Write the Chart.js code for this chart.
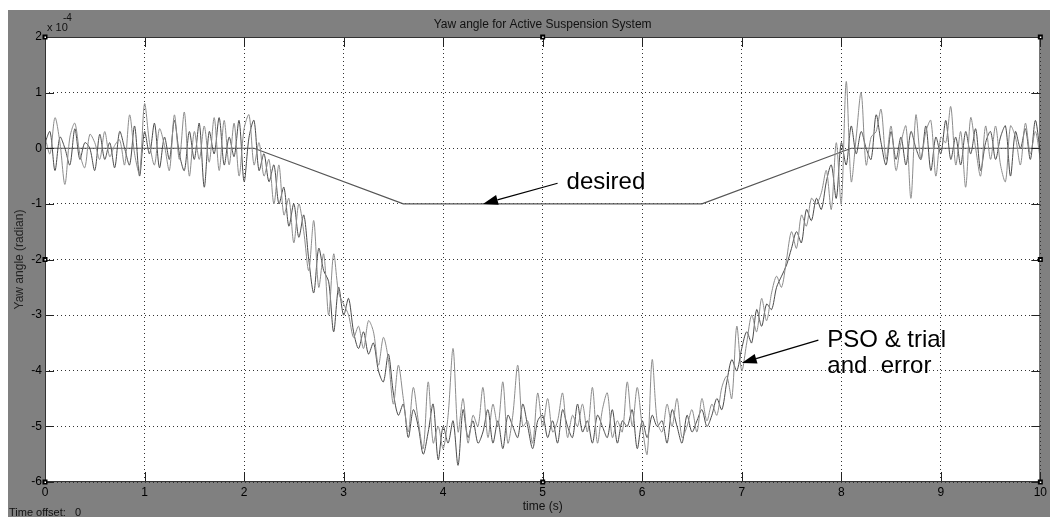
<!DOCTYPE html>
<html>
<head>
<meta charset="utf-8">
<script src="https://cdn.jsdelivr.net/npm/chart.js@4.4.1/dist/chart.umd.min.js"></script>
<style>
html, body { margin:0; padding:0; background:#fff; }
#wrap { width:1050px; height:517px; }
</style>
</head>
<body>
<div id="wrap"><canvas id="Chart1" width="1050" height="517"></canvas></div>
<script>
// yaw angle samples, in units of 1e-4 rad, one every 0.05 s from 0 to 10 s
let timeStep = 0.05

let psoYaw = [
  0.2, -0.1, 0.55, 0.1, -0.65, 0.2, 0.45, -0.1, -0.35, 0.25,
  0.1, -0.2, 0.3, -0.15, 0.05, 0.15, -0.3, 0.6, -0.1, -0.45,
  0.8, 0.1, -0.3, 0.35, 0.05, -0.4, 0.6, -0.2, 0.65, -0.5,
  0.3, -0.2, 0.4, -0.25, 0.55, -0.4, 0.5, -0.3, 0.45, -0.5,
  0.35, 0.6, -0.3, 0.1, -0.5, -0.2, -1.0, -0.3, -1.2, -0.9,
  -1.7, -1.0, -1.5, -2.2, -1.3, -2.5, -1.9, -3.0, -1.9, -2.6,
  -2.8, -3.0, -3.4, -3.2, -3.6, -3.1, -3.3, -3.9, -3.4, -3.8,
  -4.6, -3.9, -4.5, -5.1, -4.3, -4.9, -5.4, -4.2, -5.3, -5.0,
  -5.4, -4.8, -3.6, -5.1, -4.5, -5.3, -4.8, -5.0, -4.3, -5.2,
  -4.6, -5.0, -4.2, -5.3, -4.8, -3.9, -5.0, -4.9, -5.3, -4.4,
  -5.0, -4.5, -5.1, -4.9, -4.4, -5.2, -4.8, -5.0, -4.6, -5.1,
  -4.3, -5.3, -4.7, -4.4, -5.2, -4.9, -5.1, -4.2, -5.0, -4.3,
  -5.0, -5.5, -3.8, -4.9, -5.1, -4.6, -5.0, -4.5, -5.2, -5.0,
  -4.7, -5.1, -4.5, -4.9, -4.6, -4.8, -4.3, -4.1, -4.5, -3.2,
  -4.0, -3.5, -3.0, -3.3, -2.7, -3.1, -2.6, -2.3, -2.5, -2.0,
  -1.5, -1.8, -1.2, -1.4, -0.9, -1.0, -0.8, -0.4, -1.1, 0.1,
  -1.0, 1.2, -0.6, 0.2, 1.0, -0.3, 0.2, 0.3, 0.7, -0.2,
  0.4, -0.4, 0.1, 0.4, -0.9, 0.6, -0.2, 0.3, 0.5, -0.5,
  0.2, 0.1, 0.75, -0.3, 0.3, -0.7, 0.55, 0.0, -0.5, 0.4,
  -0.2, 0.4, -0.3, -0.6, 0.4, 0.2, -0.3, 0.45, -0.1, 0.3,
  -0.2
]

let trialYaw = [
  0.1, 0.3, -0.4, 0.2, 0.0, -0.3, 0.35, -0.2, 0.1, 0.0,
  -0.4, 0.25, -0.2, 0.1, -0.35, 0.3, 0.0, -0.3, 0.4, -0.5,
  0.3, -0.1, 0.45, -0.35, 0.2, -0.2, 0.5, -0.1, -0.4, 0.3,
  -0.2, 0.45, -0.7, 0.3, -0.1, 0.55, -0.3, 0.2, -0.15, 0.5,
  -0.6, 0.2, 0.5, -0.4, -0.1, -0.6, -0.3, -1.0, -0.7, -1.4,
  -1.0, -1.6, -1.2, -2.0, -2.6, -1.8, -2.2, -2.4, -3.3, -2.5,
  -3.0, -2.7, -3.3, -3.6, -3.3, -3.7, -3.5, -4.0, -4.2, -3.7,
  -4.4, -4.8, -4.6, -5.2, -4.7, -5.0, -5.5, -5.1, -4.6, -5.6,
  -5.0, -5.3, -4.9, -5.7, -4.7, -5.2, -4.9, -5.3, -5.1, -4.7,
  -5.3, -4.9, -5.4, -4.8, -5.0, -5.2, -4.6, -5.0, -5.4, -4.9,
  -4.8, -5.2, -4.9, -5.3, -4.7, -5.0, -5.2, -4.6, -5.1, -4.9,
  -5.3, -4.8, -5.0, -5.2, -4.7, -5.3, -4.9, -5.0, -4.7, -5.4,
  -4.9, -5.2, -4.8, -5.0, -4.9, -5.3, -4.7, -5.0, -5.3, -4.8,
  -5.1, -4.9, -4.7, -5.0, -4.8, -4.5, -4.7, -4.2, -3.8, -4.0,
  -3.6, -3.3, -3.5, -2.9, -3.2, -2.8, -2.9, -2.5, -2.3, -2.1,
  -1.8, -1.5, -1.7, -1.1, -1.3, -0.9, -1.1, -0.6, -0.3, -0.9,
  0.1, -0.3, 0.4, -0.1, 0.3, 0.0, -0.2, 0.6, 0.1, -0.3,
  0.3, -0.2, 0.2, -0.3, 0.3, 0.0, -0.2, 0.4, -0.4, 0.2,
  -0.1, 0.5, -0.2, 0.2, -0.3, 0.3, -0.1, 0.35, -0.4, 0.1,
  0.3, -0.2, 0.2, 0.4, -0.5, 0.3, 0.0, 0.35, -0.2, 0.5,
  -0.1
]

// desired yaw trajectory (break points)
let desiredT = [0, 2.1, 3.6, 6.6, 8.1, 10]
let desiredYaw = [0, 0, -1, -1, 0, 0]

let xTicks = [0, 1, 2, 3, 4, 5, 6, 7, 8, 9, 10]
let yTicks = [2, 1, 0, -1, -2, -3, -4, -5, -6]

// annotation text spot, arrow tail and arrow tip, in data units
let desiredNote = { lines: ["desired"], x: 5.24, y: -0.73, tail: [5.15, -0.63], tip: [4.4, -1.0] }
let psoNote = { lines: ["PSO & trial", "and  error"], x: 7.86, y: -3.575, tail: [7.77, -3.45], tip: [7.0, -3.86] }

let fontFam = "'Liberation Sans', Arial, sans-serif"

function toPoints(values){
    return values.map((v, i) => ({ x: +(i * timeStep).toFixed(2), y: v }))
}
let desiredPoints = desiredT.map((t, i) => ({ x: t, y: desiredYaw[i] }))

function drawArrow(ctx, x1, y1, x2, y2){
    let ang = Math.atan2(y2 - y1, x2 - x1)
    let len = 15, half = 5
    ctx.beginPath()
    ctx.moveTo(x1, y1)
    ctx.lineTo(x2 - Math.cos(ang) * len, y2 - Math.sin(ang) * len)
    ctx.stroke()
    ctx.beginPath()
    ctx.moveTo(x2, y2)
    ctx.lineTo(x2 - Math.cos(ang) * len - Math.sin(ang) * half, y2 - Math.sin(ang) * len + Math.cos(ang) * half)
    ctx.lineTo(x2 - Math.cos(ang) * len + Math.sin(ang) * half, y2 - Math.sin(ang) * len - Math.cos(ang) * half)
    ctx.closePath()
    ctx.fill()
}

let matlabFrame = {
    id: "matlabFrame",
    beforeDraw(chart){
        let ctx = chart.ctx
        ctx.save()
        ctx.fillStyle = "#fff"
        ctx.fillRect(0, 0, chart.width, chart.height)
        ctx.fillStyle = "#808080"
        ctx.fillRect(8, 10, chart.width - 8, chart.height - 10)
        let a = chart.chartArea
        ctx.fillStyle = "#fff"
        ctx.fillRect(a.left, a.top, a.right - a.left, a.bottom - a.top)
        ctx.restore()
    },
    afterDraw(chart){
        let ctx = chart.ctx
        let a = chart.chartArea
        let xs = chart.scales.x, ys = chart.scales.y
        ctx.save()
        // inner tick marks
        ctx.strokeStyle = "#222"
        ctx.lineWidth = 1
        ctx.beginPath()
        xTicks.forEach(t => {
            let px = Math.round(xs.getPixelForValue(t)) + 0.5
            ctx.moveTo(px, a.bottom); ctx.lineTo(px, a.bottom - 10)
            ctx.moveTo(px, a.top); ctx.lineTo(px, a.top + 10)
        })
        yTicks.forEach(v => {
            let py = Math.round(ys.getPixelForValue(v)) + 0.5
            ctx.moveTo(a.left, py); ctx.lineTo(a.left + 9, py)
            ctx.moveTo(a.right, py); ctx.lineTo(a.right - 9, py)
        })
        ctx.stroke()
        // axes box
        ctx.strokeStyle = "#333"
        ctx.strokeRect(a.left + 0.5, a.top + 0.5, a.right - a.left - 1, a.bottom - a.top - 1)
        // selection handles
        let cx = (a.left + a.right) / 2, cy = (a.top + a.bottom) / 2
        ;[[a.left, a.top], [cx, a.top], [a.right, a.top], [a.left, cy], [a.right, cy], [a.left, a.bottom], [cx, a.bottom], [a.right, a.bottom]].forEach(p => {
            ctx.fillStyle = "#000"
            ctx.fillRect(p[0] - 2.5, p[1] - 2.5, 5, 5)
            ctx.fillStyle = "#fff"
            ctx.fillRect(p[0] - 0.5, p[1] - 0.5, 1.5, 1.5)
        })
        // title
        ctx.fillStyle = "#111"
        ctx.font = "12px " + fontFam
        ctx.textAlign = "center"
        ctx.textBaseline = "middle"
        ctx.fillText("Yaw angle for Active Suspension System", cx, 25)
        // exponent
        ctx.textAlign = "left"
        ctx.textBaseline = "alphabetic"
        ctx.font = "11px " + fontFam
        ctx.fillText("x 10", a.left + 2, 31)
        ctx.font = "10px " + fontFam
        ctx.fillText("-4", a.left + 18, 21)
        // time offset
        ctx.font = "11px " + fontFam
        ctx.fillText("Time offset:   0", 9, 516)
        // annotations
        ctx.strokeStyle = "#000"
        ctx.fillStyle = "#000"
        ctx.lineWidth = 1.2
        ;[desiredNote, psoNote].forEach(n => {
            drawArrow(ctx, xs.getPixelForValue(n.tail[0]), ys.getPixelForValue(n.tail[1]),
                xs.getPixelForValue(n.tip[0]), ys.getPixelForValue(n.tip[1]))
            ctx.font = "24px " + fontFam
            n.lines.forEach((line, i) => {
                ctx.fillText(line, xs.getPixelForValue(n.x), ys.getPixelForValue(n.y) + i * 26)
            })
        })
        ctx.restore()
    }
}

document.addEventListener("DOMContentLoaded", () => {
    new Chart(document.getElementById("Chart1"), {
        type: "line",
        data: {
            datasets: [{
                label: "PSO",
                data: toPoints(psoYaw),
                borderColor: "#8c8c8c",
                borderWidth: 1,
                pointRadius: 0,
                tension: 0.3
            },
            {
                label: "trial and error",
                data: toPoints(trialYaw),
                borderColor: "#4a4a4a",
                borderWidth: 1,
                pointRadius: 0,
                tension: 0.3
            },
            {
                label: "desired",
                data: desiredPoints,
                borderColor: "#555",
                borderWidth: 1.2,
                pointRadius: 0,
                tension: 0
            }]
        },
        options: {
            responsive: false,
            animation: false,
            devicePixelRatio: 1,
            layout: { padding: { top: 37, right: 9, left: 0, bottom: 0 } },
            plugins: {
                legend: { display: false },
                tooltip: { enabled: false },
                title: { display: false }
            },
            scales: {
                x: {
                    type: "linear",
                    min: 0, max: 10,
                    afterFit: s => { s.height = 35 },
                    afterBuildTicks: s => { s.ticks = xTicks.map(v => ({ value: v })) },
                    ticks: { color: "#000", font: { size: 12, family: fontFam }, padding: 3, maxRotation: 0 },
                    grid: { drawTicks: false, color: "#333", lineWidth: 1 },
                    border: { display: false, dash: [1, 3] },
                    title: { display: true, text: "time (s)", color: "#111", font: { size: 12, family: fontFam }, padding: { top: 0, bottom: 3 } }
                },
                y: {
                    min: -6, max: 2,
                    afterFit: s => { s.width = 45 },
                    afterBuildTicks: s => { s.ticks = yTicks.map(v => ({ value: v })) },
                    ticks: { color: "#000", font: { size: 12, family: fontFam }, padding: 3 },
                    grid: { drawTicks: false, color: "#333", lineWidth: 1 },
                    border: { display: false, dash: [1, 3] },
                    title: { display: true, text: "Yaw angle (radian)", color: "#222", font: { size: 12, family: fontFam }, padding: { top: 12, bottom: 0 } }
                }
            }
        },
        plugins: [matlabFrame]
    })
})
</script>
</body>
</html>
